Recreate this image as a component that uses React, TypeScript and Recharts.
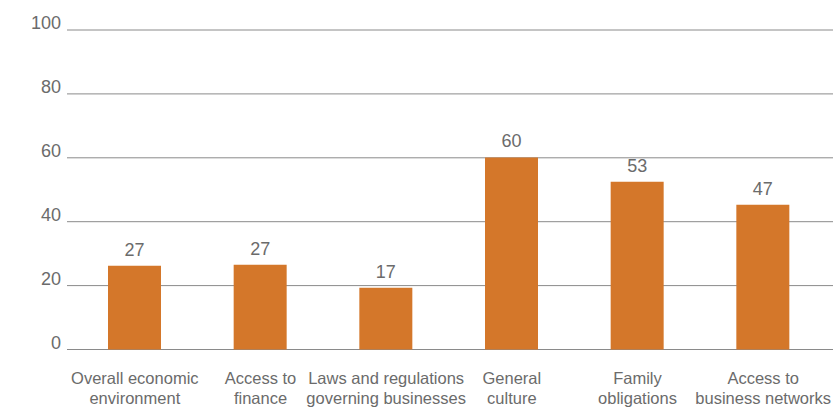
import React from 'react';
import { BarChart, Bar, XAxis, YAxis, CartesianGrid, LabelList } from 'recharts';

const categories = [
  'Overall economic|environment',
  'Access to|finance',
  'Laws and regulations|governing businesses',
  'General|culture',
  'Family|obligations',
  'Access to|business networks',
];
const barValues = [26.2, 26.5, 19.3, 60.1, 52.5, 45.3];
const valueLabels = ['27', '27', '17', '60', '53', '47'];
const yTicks = [0, 20, 40, 60, 80, 100];

const data = categories.map((c, i) => ({ name: c, value: barValues[i], label: valueLabels[i] }));

const FONT = '"Liberation Sans", Arial, sans-serif';
const TEXT = '#6b6b6b';

const YTick = (props: any) => {
  const { x, y, payload } = props;
  return (
    <text x={x} y={y} dy={-1} textAnchor="end" fill={TEXT} fontSize={18} fontFamily={FONT}>
      {payload.value}
    </text>
  );
};

const XTick = (props: any) => {
  const { x, y, payload } = props;
  const lines = String(payload.value).split('|');
  return (
    <text x={x} y={y} textAnchor="middle" fill={TEXT} fontSize={16.5} fontFamily={FONT}>
      {lines.map((l, i) => (
        <tspan key={i} x={x} dy={i === 0 ? 26.5 : 19.5}>{l}</tspan>
      ))}
    </text>
  );
};

const ValueLabel = (props: any) => {
  const { x, y, width, value } = props;
  return (
    <text x={x + width / 2} y={y} dy={-10} textAnchor="middle" fill={TEXT} fontSize={18} fontFamily={FONT}>
      {value}
    </text>
  );
};

export default function App() {
  return (
    <div style={{ position: 'absolute', left: 0, top: 0, width: 833, height: 407, background: '#fff' }}>
      <BarChart
        width={833}
        height={407}
        data={data}
        margin={{ top: 30, right: 0, bottom: 0, left: 0 }}
        barCategoryGap={0}
      >
        <CartesianGrid vertical={false} stroke="#8a8a8a" strokeWidth={1} />
        <XAxis
          dataKey="name"
          axisLine={false}
          tickLine={false}
          tick={<XTick />}
          interval={0}
          height={57.5}
          padding={{ left: 5, right: 7 }}
        />
        <YAxis
          domain={[0, 100]}
          ticks={yTicks}
          axisLine={false}
          tickLine={false}
          tick={<YTick />}
          width={67}
          tickMargin={0}
        />
        <Bar dataKey="value" fill="#D4772A" barSize={53} isAnimationActive={false}>
          <LabelList dataKey="label" content={<ValueLabel />} />
        </Bar>
      </BarChart>
    </div>
  );
}
